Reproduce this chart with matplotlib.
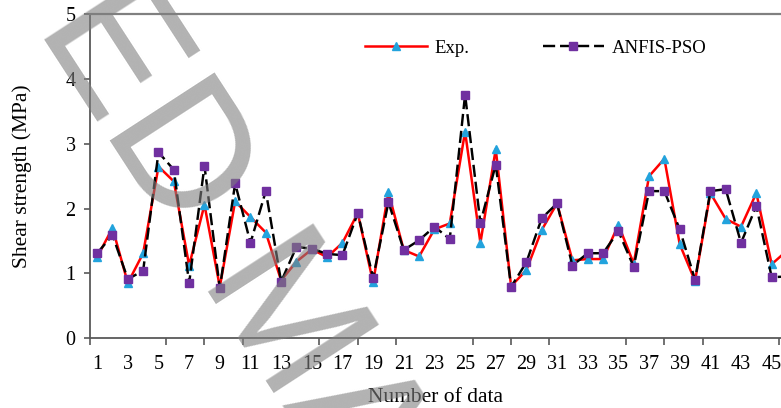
import numpy as np
import matplotlib
matplotlib.use("Agg")
import matplotlib.pyplot as plt

plt.rcParams['font.family'] = ['Liberation Serif', 'DejaVu Serif']

# 数据：实验值与 ANFIS-PSO 预测值
sample_no = list(range(1, 47))
exp_vals = [1.25, 1.70, 0.85, 1.31, 2.65, 2.42, 1.12, 2.06, 0.79, 2.11,
            1.87, 1.63, 0.89, 1.18, 1.37, 1.25, 1.47, 1.93, 0.86, 2.25,
            1.36, 1.26, 1.68, 1.77, 3.19, 1.47, 2.92, 0.80, 1.05, 1.67,
            2.08, 1.20, 1.22, 1.22, 1.75, 1.15, 2.50, 2.77, 1.45, 0.88,
            2.24, 1.84, 1.72, 2.24, 1.14, 1.35]
anfis_vals = [1.31, 1.59, 0.91, 1.04, 2.87, 2.60, 0.85, 2.66, 0.77, 2.39,
              1.47, 2.27, 0.87, 1.41, 1.38, 1.30, 1.28, 1.93, 0.93, 2.10,
              1.36, 1.51, 1.72, 1.53, 3.76, 1.78, 2.68, 0.79, 1.17, 1.85,
              2.08, 1.12, 1.31, 1.31, 1.65, 1.10, 2.27, 2.27, 1.68, 0.90,
              2.27, 2.30, 1.47, 2.04, 0.94, 0.95]
xtick_labels = [str(i) for i in range(1, 46, 2)]

fig = plt.figure(figsize=(7.81, 4.08), dpi=100)
ax = fig.add_axes([0.1146, 0.1716, 1 - 0.1146, 0.7929])

ax.plot(sample_no, exp_vals, color='#FF0000', lw=1.8, marker='^', markersize=6,
        markerfacecolor='#22A3DD', markeredgecolor='#22A3DD', label='Exp.')
ax.plot(sample_no, anfis_vals, color='black', lw=1.75, linestyle=(0, (5, 2)),
        marker='s', markersize=5.5, markerfacecolor='#7030A0',
        markeredgecolor='#7030A0', label='ANFIS-PSO')

ax.set_xlim(0.5, 0.5 + 691.5 / 15.33)
ax.set_ylim(0, 5)
ax.set_yticks([0, 1, 2, 3, 4, 5])
ax.set_xticks(range(1, 46, 2))
ax.set_xticklabels(xtick_labels)
ax.set_xticks(np.arange(0.5, 46, 2.5), minor=True)
ax.tick_params(axis='x', which='major', length=0, pad=12, labelsize=14.5)
ax.tick_params(axis='x', which='minor', length=5, width=1.2, color='#595959')
ax.tick_params(axis='y', length=4, width=1.2, color='#595959', pad=6, labelsize=14.5)

for side in ['left', 'bottom']:
    ax.spines[side].set_color('#595959')
    ax.spines[side].set_linewidth(1.3)
ax.spines['top'].set_color('#808080')
ax.spines['top'].set_linewidth(1.6)
ax.spines['right'].set_visible(False)

ax.set_xlabel('Number of data', fontsize=15.5, labelpad=10)
ax.set_ylabel('Shear strength (MPa)', fontsize=15.5)
ax.yaxis.set_label_coords(-0.083, 0.5)

ax.legend(loc='center left', bbox_to_anchor=(365 / 781, 1 - 48 / 408),
          bbox_transform=fig.transFigure, ncol=2, frameon=False,
          fontsize=13.5, handlelength=3.3, handletextpad=0.4,
          columnspacing=3.9, borderpad=0, borderaxespad=0)

# 水印
fig.text(-363 / 781, 1 + 587 / 408, 'ACCEPTED MANUSCRIPT', rotation=-57,
         rotation_mode='anchor', ha='left', va='baseline',
         family='Liberation Sans', fontsize=130, color='#7f7f7f', alpha=0.6,
         zorder=10)

fig.savefig('out.png', dpi=100)
